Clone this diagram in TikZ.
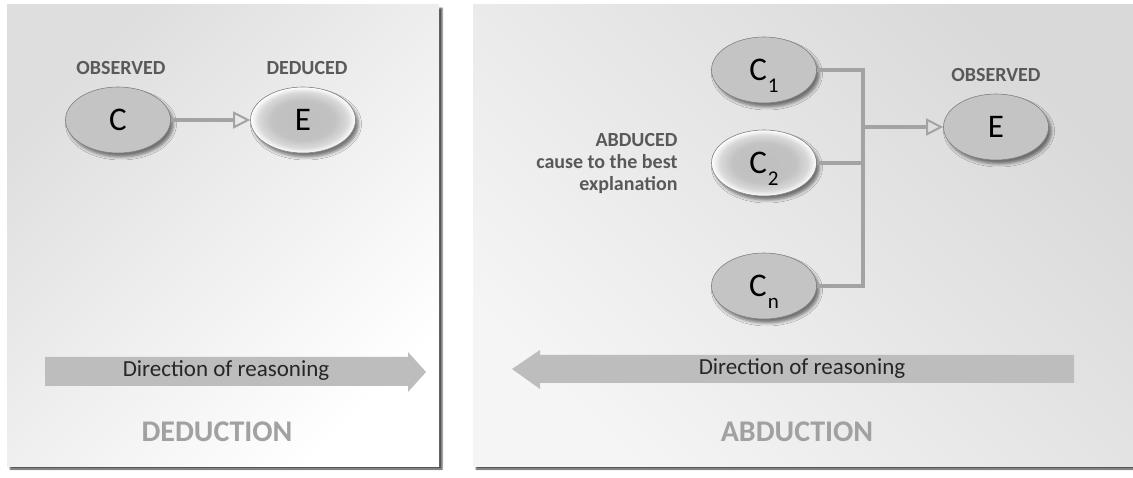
\documentclass[tikz,border=0pt]{standalone}
\usepackage{fontspec}
\setmainfont{Carlito}
\usetikzlibrary{shapes.geometric,arrows.meta,shadows.blur}

% grey core fading to a white rim, for the highlighted ellipses
\pgfdeclareradialshading{softrim}{\pgfpoint{0bp}{0bp}}{color(0bp)=(gray!50); color(15bp)=(gray!48); color(21bp)=(gray!30); color(25bp)=(white); color(50bp)=(white)}

% big C with a hanging index that takes no room
\newcommand{\csub}[1]{C\kern1pt\raisebox{-12pt}[0pt][0pt]{\fontsize{21}{21}\selectfont #1}}

\tikzset{
  panel/.style={blur shadow={shadow xshift=3pt,shadow yshift=-3pt,shadow blur radius=1.5pt,shadow opacity=70}},
  cause/.style={ellipse,draw=gray,line width=0.6pt,fill=gray!46,inner sep=0pt,
    minimum width=105,minimum height=66,font=\fontsize{33}{33}\selectfont,
    blur shadow={shadow xshift=3pt,shadow yshift=-4pt,shadow blur radius=3pt,shadow opacity=50}},
  glow/.style={cause,shading=softrim},
  tag/.style={font=\bfseries\fontsize{20}{22}\selectfont,text=black!65},
  link/.style={draw=gray!72,line width=4pt,line join=miter},
  tip/.style={-{Triangle[open,length=17pt,width=17pt,line width=2pt]}},
  dirarrow/.style={fill=gray!52},
  dirtext/.style={font=\fontsize{23}{23}\selectfont,text=black!85},
  title/.style={font=\bfseries\fontsize{30}{30}\selectfont,text=black!37}
}

\begin{document}
\begin{tikzpicture}[x=1pt,y=-1pt]
\useasboundingbox (0,0) rectangle (1133,478);

% Panels
\path[panel,left color=gray!26,middle color=white,right color=white,shading angle=45] (7,5) rectangle (439,466);
\path[panel,left color=gray!8,middle color=white,right color=gray!30,shading angle=135] (473,5) rectangle (1140,466);

% Deduction
\node[cause] (c) at (118,120) {C};
\node[glow] (eL) at (303,120) {E};
\node[tag] (obsL) at (121,68) {OBSERVED};
\node[tag] (dedL) at (307,68) {DEDUCED};
\draw[link,tip] (c) -- (eL);

\fill[dirarrow] (45,357) -- (408,357) -- (408,352) -- (426,372) -- (408,392) -- (408,386) -- (45,386) -- cycle;
\node[dirtext] (dirL) at (226,371) {Direction of reasoning};
\node[title] (dedT) at (217,432) {DEDUCTION};

% Abduction
\node[cause] (c1) at (764,70) {\csub{1}};
\node[glow] (c2) at (764,163) {\csub{2}};
\node[cause] (cn) at (764,286) {\csub{n}};
\node[cause] (eR) at (996,127) {E};
\node[tag] (obsR) at (996,75) {OBSERVED};
\node[tag,anchor=east,align=right] (abd) at (681,164) {ABDUCED\\cause to the best\\explanation};

\coordinate (bus) at (863,127);
\draw[link] (c1.east) -| (bus) |- (cn.east);
\draw[link] (c2.east) -- (c2.east -| bus);
\draw[link,tip] (bus) -- (eR);

\fill[dirarrow] (1074,355) -- (540,355) -- (540,350) -- (512,369) -- (540,389) -- (540,383) -- (1074,383) -- cycle;
\node[dirtext] (dirR) at (802,369) {Direction of reasoning};
\node[title] (abdT) at (797,432) {ABDUCTION};

\end{tikzpicture}
\end{document}
